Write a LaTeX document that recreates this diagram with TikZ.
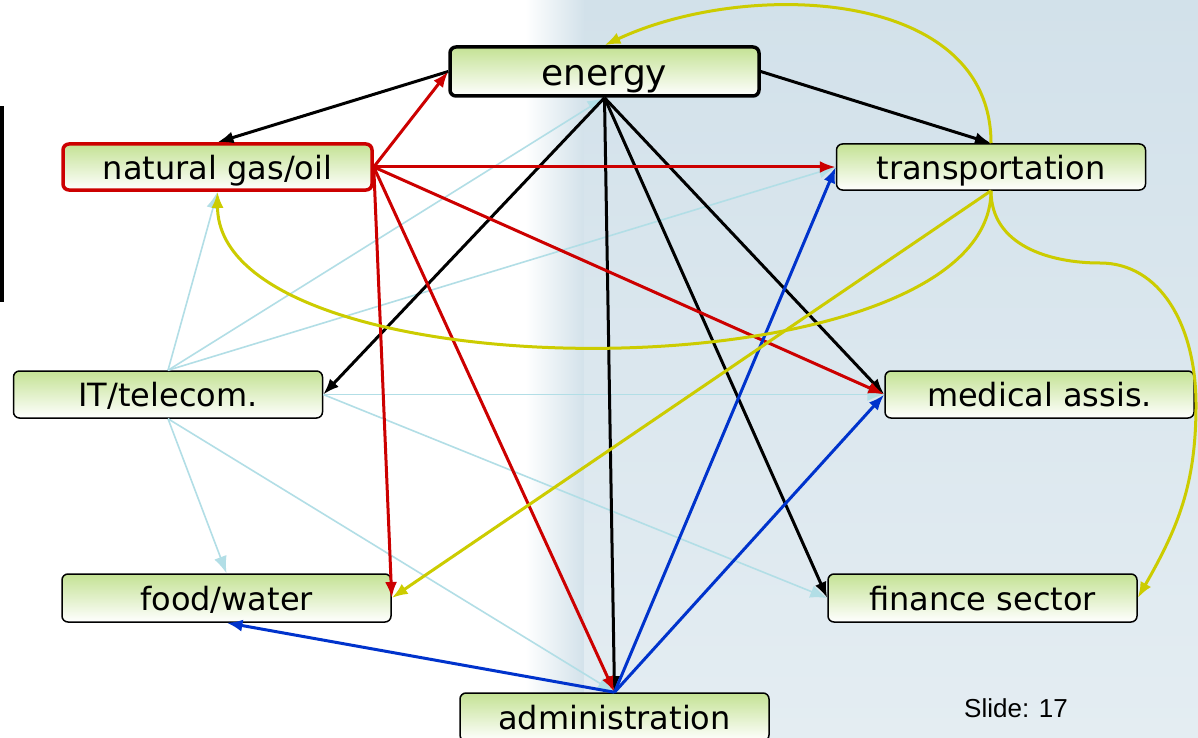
\documentclass[tikz,border=0pt]{standalone}
\usepackage{fontspec}
\setmainfont{DejaVu Sans}
\newfontfamily\slidefont{Liberation Sans}
\usepackage{tikz}
\usetikzlibrary{arrows.meta}

\definecolor{boxgreen}{RGB}{196,226,148}
\definecolor{bgblue}{RGB}{210,225,234}
\definecolor{linkred}{RGB}{204,0,0}
\definecolor{linkblue}{RGB}{0,51,204}
\definecolor{linklight}{RGB}{178,222,230}
\definecolor{linkyellow}{RGB}{204,204,0}

\begin{document}
\begin{tikzpicture}[
				x=1pt, y=-1pt,
				box/.style={draw, rounded corners=6pt, top color=boxgreen, bottom color=white,
					minimum width=309pt, minimum height=47pt, inner sep=0pt, line width=1.5pt,
					text height=30pt, text depth=6pt, font=\fontsize{32}{38}\selectfont},
				arrow/.style={-{Latex[length=16pt, width=12pt]}, line width=3pt},
				thin arrow/.style={-{Latex[length=17pt, width=13pt]}, line width=1.6pt, linklight}
			]

			% Background of the slide
			\useasboundingbox (0,0) rectangle (1198,738);
			\fill[white] (0,0) rectangle (1198,738);
			\shade[left color=white, right color=bgblue] (525,0) rectangle (585,738);
			\shade[top color=bgblue, bottom color=bgblue!60!white] (584,0) rectangle (1198,738);
			\fill[black] (0,106) rectangle (3.5,302);

			% Nodes
			\node[box, minimum height=49pt, line width=3.5pt, text height=35pt, text depth=6pt,
				font=\fontsize{36}{42}\selectfont] (energy) at (604.5,71.5) {energy};
			\node[box, minimum height=46pt, line width=3.5pt, draw=linkred] (ngas) at (217.5,167) {natural gas/oil};
			\node[box, minimum height=46pt] (trans) at (991,167) {transportation};
			\node[box] (it) at (168,394.5) {IT/telecom.};
			\node[box] (med) at (1039.5,394.5) {medical assis.};
			\node[box, minimum width=329pt, minimum height=48pt] (food) at (226.5,598) {food/water};
			\node[box, minimum height=48pt] (fin) at (982.5,598) {finance sector};
			\node[box, minimum height=48pt] (admin) at (614.5,717) {administration};
			\node[font=\slidefont\fontsize{26}{30}\selectfont] (slide) at (1016,708) {Slide: 17};

			% Arrows from IT/telecom.
			\draw[thin arrow] (it.north) -- (ngas.south);
			\draw[thin arrow] (it.north) -- (energy.south);
			\draw[thin arrow] (it.north) -- (trans.west);
			\draw[thin arrow] (it.east) -- (med.west);
			\draw[thin arrow] (it.east) -- (fin.west);
			\draw[thin arrow] (it.south) -- (food.north);
			\draw[thin arrow] (it.south) -- (admin.north);

			% Arrows from energy
			\draw[arrow] (energy.west) -- (ngas.north);
			\draw[arrow] (energy.east) -- (trans.north);
			\draw[arrow] (energy.south) -- (it.east);
			\draw[arrow] (energy.south) -- (admin.north);
			\draw[arrow] (energy.south) -- (fin.west);
			\draw[arrow] (energy.south) -- (med.west);

			% Arrows from natural gas/oil
			\draw[arrow, linkred] (ngas.east) -- (energy.west);
			\draw[arrow, linkred] (ngas.east) -- (trans.west);
			\draw[arrow, linkred] (ngas.east) -- (med.west);
			\draw[arrow, linkred] (ngas.east) -- (food.east);
			\draw[arrow, linkred] (ngas.east) -- (admin.north);

			% Arrows from administration
			\draw[arrow, linkblue] (admin.north) -- (food.south);
			\draw[arrow, linkblue] (admin.north) -- (trans.west);
			\draw[arrow, linkblue] (admin.north) -- (med.west);

			% Arrows from transportation
			\coordinate (bendA) at (1100,263);
			\coordinate (bendB) at (1196,405);
			\draw[arrow, linkyellow] (trans.north) .. controls +(0,-156) and +(141,-66) .. (energy.north);
			\draw[arrow, linkyellow] (trans.south) .. controls +(0,207) and +(0,207) .. (ngas.south);
			\draw[arrow, linkyellow] (trans.south) -- (food.east);
			\draw[arrow, linkyellow] (trans.south) .. controls +(0,55) and +(-50,0) .. (bendA)
				.. controls +(60,0) and +(0,-80) .. (bendB)
				.. controls +(0,80) and +(40,-70) .. (fin.east); % boucle

		\end{tikzpicture}
\end{document}
